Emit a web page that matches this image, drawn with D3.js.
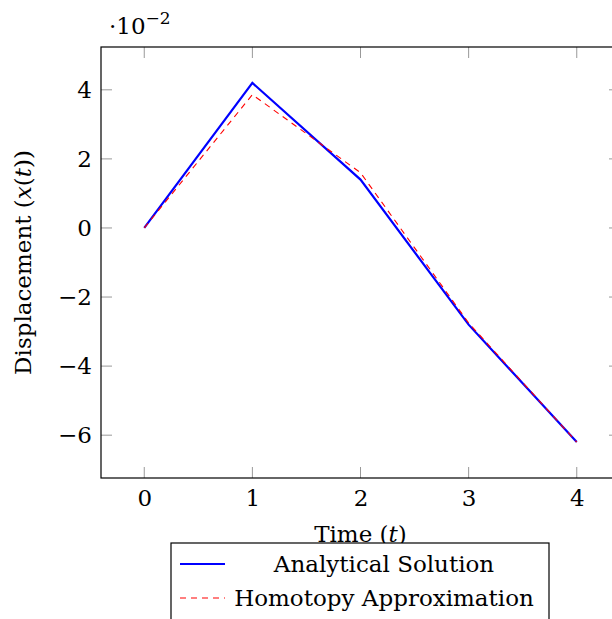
<!DOCTYPE html>
<html><head><meta charset="utf-8">
<script src="https://cdn.jsdelivr.net/npm/d3@7"></script>
<style>body{margin:0;background:#fff}svg{display:block}</style>
</head><body>
<svg id="c" width="612" height="619"></svg>
<script>
const times = [0, 1, 2, 3, 4];
const analytical = [0, 0.042, 0.014, -0.028, -0.062];
const homotopy = [0, 0.0386, 0.016, -0.0275, -0.062];
const xTicks = [0, 1, 2, 3, 4];
const yTicks = [-0.06, -0.04, -0.02, 0, 0.02, 0.04];
const seriesNames = ["Analytical Solution", "Homotopy Approximation"];

const FONT = "DejaVu Serif";
const FS = 23;
const svg = d3.select("#c");
const L = 101, R = 620, T = 47, B = 478;
const x = d3.scaleLinear().domain([-0.4, 4.4]).range([L, R]);
const y = d3.scaleLinear().domain([-0.0724, 0.0524]).range([B, T]);

// ticks (inside, all four sides)
const tk = 11;
const g = svg.append("g");
xTicks.forEach(t => {
  g.append("line").attr("x1", x(t)).attr("x2", x(t)).attr("y1", B).attr("y2", B - tk).attr("stroke", "#999").attr("stroke-width", 1);
  g.append("line").attr("x1", x(t)).attr("x2", x(t)).attr("y1", T).attr("y2", T + tk).attr("stroke", "#999").attr("stroke-width", 1);
});
yTicks.forEach(t => {
  g.append("line").attr("x1", L).attr("x2", L + tk).attr("y1", y(t)).attr("y2", y(t)).attr("stroke", "#999").attr("stroke-width", 1);
  g.append("line").attr("x1", R).attr("x2", R - tk).attr("y1", y(t)).attr("y2", y(t)).attr("stroke", "#999").attr("stroke-width", 1);
});

// axes via d3 axis (labels only)
const xAxis = svg.append("g").attr("transform", `translate(0,${B})`)
  .call(d3.axisBottom(x).tickValues(xTicks).tickSize(0).tickPadding(12).tickFormat(d3.format("d")));
const yAxis = svg.append("g").attr("transform", `translate(${L},0)`)
  .call(d3.axisLeft(y).tickValues(yTicks).tickSize(0).tickPadding(9).tickFormat(d => {
    const v = Math.round(d * 100);
    return v < 0 ? "\u2212" + Math.abs(v) : String(v);
  }));
[xAxis, yAxis].forEach(a => {
  a.select(".domain").remove();
  a.selectAll("text").attr("font-family", FONT).attr("font-size", FS).attr("fill", "#000");
});
xAxis.selectAll("text").attr("dy", "0.71em");

// frame
svg.append("rect").attr("x", L).attr("y", T).attr("width", R - L).attr("height", B - T)
  .attr("fill", "none").attr("stroke", "#000").attr("stroke-width", 1.2);

// lines
const line = d3.line().x((d, i) => x(times[i])).y(d => y(d));
svg.append("path").datum(analytical).attr("d", line).attr("fill", "none")
  .attr("stroke", "#0000ff").attr("stroke-width", 2.2).attr("stroke-linejoin", "miter");
svg.append("path").datum(homotopy).attr("d", line).attr("fill", "none")
  .attr("stroke", "#ff0000").attr("stroke-width", 1.1).attr("stroke-dasharray", "6,5");

// scale multiplier
const mult = svg.append("text").attr("x", 109).attr("y", 34).attr("font-family", FONT).attr("font-size", FS);
mult.append("tspan").text("\u00b710");
mult.append("tspan").attr("dy", -10).attr("font-size", 17).text("\u22122");

// axis labels
const xl = svg.append("text").attr("x", (L + R) / 2).attr("y", 542).attr("text-anchor", "middle")
  .attr("font-family", FONT).attr("font-size", FS);
xl.append("tspan").text("Time (");
xl.append("tspan").attr("font-style", "italic").text("t");
xl.append("tspan").text(")");

const yl = svg.append("text").attr("transform", `translate(31,${(T + B) / 2}) rotate(-90)`).attr("text-anchor", "middle")
  .attr("font-family", FONT).attr("font-size", FS);
yl.append("tspan").text("Displacement (");
yl.append("tspan").attr("font-style", "italic").text("x");
yl.append("tspan").text("(");
yl.append("tspan").attr("font-style", "italic").text("t");
yl.append("tspan").text("))");

// legend
const lg = svg.append("g");
lg.append("rect").attr("x", 171).attr("y", 543).attr("width", 378).attr("height", 100)
  .attr("fill", "#fff").attr("stroke", "#000").attr("stroke-width", 1.2);
const rows = [
  {name: seriesNames[0], color: "#0000ff", w: 2.2, dash: null, cy: 564},
  {name: seriesNames[1], color: "#ff0000", w: 1.1, dash: "6,5", cy: 598}
];
rows.forEach(r => {
  lg.append("line").attr("x1", 180).attr("x2", 225).attr("y1", r.cy).attr("y2", r.cy)
    .attr("stroke", r.color).attr("stroke-width", r.w).attr("stroke-dasharray", r.dash);
  lg.append("text").attr("x", 384).attr("y", r.cy + 8).attr("text-anchor", "middle")
    .attr("font-family", FONT).attr("font-size", FS).text(r.name);
});
</script>
</body></html>
